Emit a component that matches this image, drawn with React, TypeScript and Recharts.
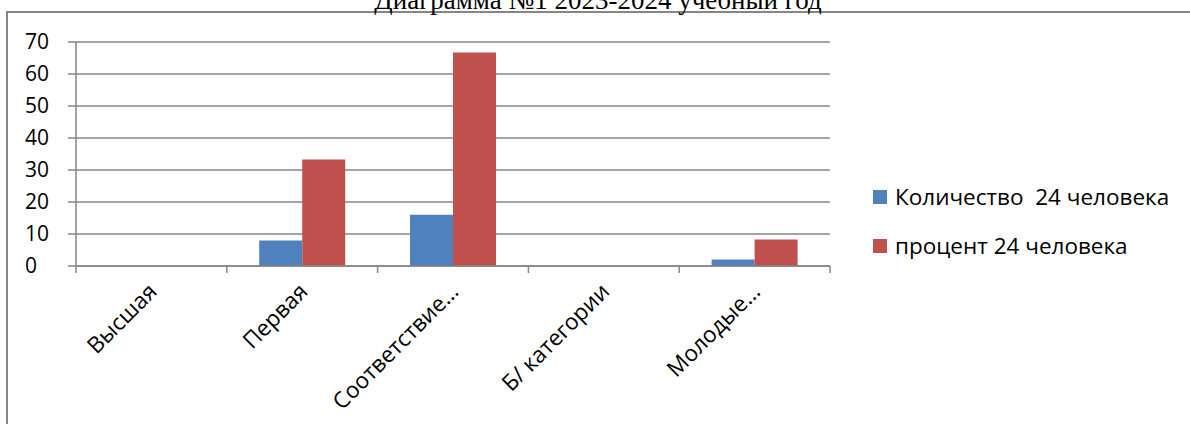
import React from "react";
import { BarChart, Bar, XAxis, YAxis, CartesianGrid, Legend } from "recharts";

const categories = ["Высшая", "Первая", "Соответствие…", "Б/ категории", "Молодые…"];
const countValues = [0, 8, 16, 0, 2];
const percentValues = [0, 33.3, 66.7, 0, 8.3];
const yTicks = [0, 10, 20, 30, 40, 50, 60, 70];
const seriesNames = ["Количество  24 человека", "процент 24 человека"];
const title = "Диаграмма №1 2023-2024 учебный год";

const BLUE = "#4F81BD";
const RED = "#C0504D";
const GRID = "#868686";
const FONT = "'Open Sans', Lato, sans-serif";

const data = categories.map((name, i) => ({
  name,
  count: countValues[i],
  percent: percentValues[i],
}));

function CategoryTick(props: any) {
  const { x, y, payload, index } = props;
  const half = payload.offset ?? 0;
  const last = index === categories.length - 1;
  const tx = x + 7;
  const ty = y + 27;
  return (
    <g>
      <line x1={x - half} x2={x - half} y1={y} y2={y + 7} stroke={GRID} strokeWidth={1.5} />
      {last && <line x1={x + half} x2={x + half} y1={y} y2={y + 7} stroke={GRID} strokeWidth={1.5} />}
      <text
        x={tx}
        y={ty}
        textAnchor="end"
        transform={`rotate(-45 ${tx} ${ty})`}
        fontSize={22.5}
        fontFamily={FONT}
        fill="#000"
      >
        {payload.value}
      </text>
    </g>
  );
}

function ValueTick(props: any) {
  const { y, payload } = props;
  return (
    <text x={25} y={y} dy={7} textAnchor="start" fontSize={21} fontFamily={FONT} fill="#000">
      {payload.value}
    </text>
  );
}

function LegendBox() {
  const colors = [BLUE, RED];
  return (
    <div style={{ fontFamily: FONT, fontSize: 22.5, color: "#000" }}>
      {seriesNames.map((n, i) => (
        <div key={n} style={{ display: "flex", alignItems: "center", height: 49, whiteSpace: "pre" }}>
          <span style={{ width: 14, height: 14, background: colors[i], marginRight: 8, display: "inline-block" }} />
          {n}
        </div>
      ))}
    </div>
  );
}

export default function App() {
  return (
    <div style={{ position: "absolute", left: 0, top: 0, width: 1190, height: 424, overflow: "hidden", background: "#fff" }}>
      <div
        style={{
          position: "absolute",
          left: 6,
          top: 11,
          width: 1300,
          height: 500,
          borderLeft: `2px solid ${GRID}`,
          borderTop: `2px solid ${GRID}`,
        }}
      />
      <div
        style={{
          position: "absolute",
          left: 0,
          width: 1196,
          top: -15,
          textAlign: "center",
          fontFamily: "'Liberation Serif', 'Times New Roman', serif",
          fontSize: 27,
          lineHeight: "30px",
          whiteSpace: "nowrap",
        }}
      >
        {title}
      </div>
      <div style={{ position: "absolute", left: 0, top: 0 }}>
        <BarChart
          width={1190}
          height={424}
          data={data}
          margin={{ top: 42, right: 360, bottom: 8, left: 0 }}
          barCategoryGap="21.5%"
          barGap={0}
        >
          <CartesianGrid vertical={false} stroke={GRID} strokeWidth={1.5} />
          <XAxis
            dataKey="name"
            height={150}
            interval={0}
            tickSize={0}
            tickMargin={0}
            tickLine={false}
            axisLine={{ stroke: GRID, strokeWidth: 1.5 }}
            tick={<CategoryTick />}
          />
          <YAxis
            width={76}
            domain={[0, 70]}
            ticks={yTicks}
            tickSize={8}
            tickLine={{ stroke: GRID, strokeWidth: 1.5 }}
            axisLine={{ stroke: GRID, strokeWidth: 1.5 }}
            tick={<ValueTick />}
          />
          <Legend
            layout="vertical"
            align="center"
            verticalAlign="middle"
            content={<LegendBox />}
            wrapperStyle={{ left: 873, top: 172, width: 317 }}
          />
          <Bar dataKey="count" name={seriesNames[0]} fill={BLUE} isAnimationActive={false} />
          <Bar dataKey="percent" name={seriesNames[1]} fill={RED} isAnimationActive={false} />
        </BarChart>
      </div>
    </div>
  );
}
